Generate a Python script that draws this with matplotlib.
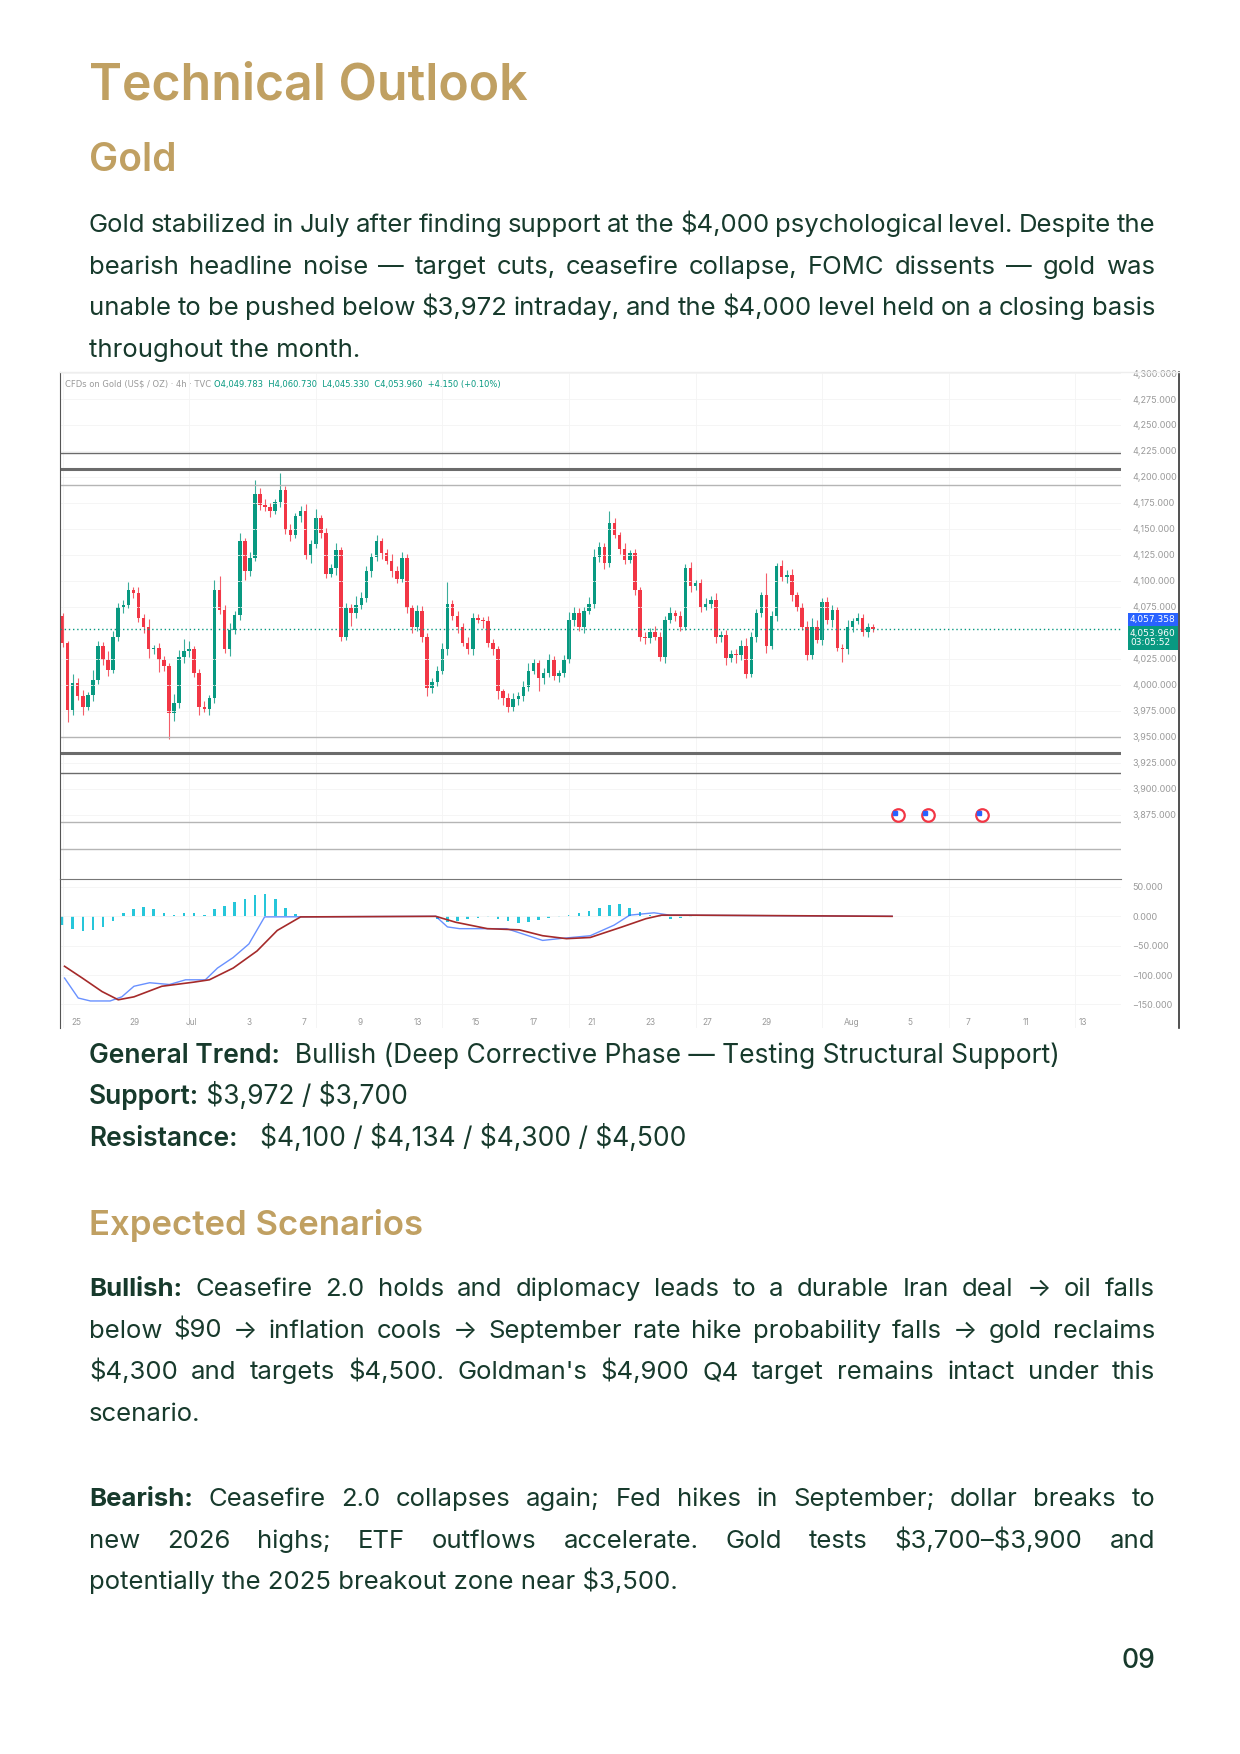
"""Technical outlook page: gold 4h candles with MACD pane."""
import matplotlib
matplotlib.use("Agg")
import numpy as np
from matplotlib import pyplot as plt
from matplotlib.transforms import blended_transform_factory
from matplotlib.patches import Rectangle

plt.rcParams["font.family"] = ["Inter", "DejaVu Sans"]

W, H = 1240, 1754
GOLD = "#c0a062"
INK = "#173a2c"
UP = "#089981"
DOWN = "#f23645"

# ---- data (4h candles) ----
first_open = 4066
closes = [
    4040, 3976, 4002, 3989, 3979, 3990, 4005, 4037, 4024, 4014, 4046, 4075, 4077, 4091, 4088,
    4064, 4056, 4034, 4035, 4024, 4018, 3973, 3982, 4027, 4032, 4034, 4011, 3979, 3977, 3987,
    4091, 4072, 4034, 4053, 4067, 4138, 4109, 4122, 4184, 4173, 4171, 4167, 4176, 4187, 4149,
    4144, 4162, 4167, 4125, 4135, 4160, 4146, 4107, 4112, 4130, 4046, 4074, 4069, 4077, 4083,
    4109, 4123, 4138, 4127, 4119, 4109, 4102, 4122, 4074, 4056, 4071, 4046, 3997, 4003, 4013,
    4034, 4078, 4066, 4056, 4040, 4034, 4064, 4062, 4061, 4040, 4034, 3994, 3987, 3979, 3986,
    3989, 3998, 4013, 4021, 4006, 4011, 4024, 4008, 4011, 4024, 4062, 4069, 4056, 4071, 4078,
    4123, 4133, 4117, 4156, 4144, 4131, 4120, 4127, 4091, 4046, 4045, 4051, 4046, 4027, 4062,
    4069, 4066, 4056, 4112, 4095, 4098, 4075, 4078, 4082, 4046, 4048, 4026, 4030, 4029, 4037,
    4010, 4046, 4069, 4086, 4037, 4066, 4114, 4104, 4106, 4086, 4075, 4056, 4029, 4056, 4043,
    4080, 4062, 4072, 4035, 4034, 4056, 4061, 4064, 4051, 4056, 4054,
]
wick_up = [
    3, 2, 8, 4, 6, 3, 9, 5, 4, 8, 6, 4, 5, 8, 3, 6, 4, 7, 3, 5, 4, 3, 9, 6, 12, 8, 3, 4, 5, 3,
    10, 14, 5, 6, 4, 8, 3, 6, 13, 5, 6, 4, 3, 17, 4, 6, 3, 5, 7, 4, 9, 3, 5, 4, 6, 3, 5, 4, 8, 6,
    5, 4, 6, 3, 4, 7, 5, 6, 4, 3, 6, 5, 4, 3, 5, 6, 21, 4, 5, 3, 6, 5, 4, 3, 5, 4, 3, 2, 5, 6,
    4, 6, 8, 4, 3, 5, 6, 4, 3, 5, 8, 6, 5, 4, 6, 8, 4, 3, 11, 4, 3, 5, 3, 4, 3, 5, 4, 6, 5, 4,
    6, 3, 5, 4, 6, 3, 4, 5, 3, 6, 4, 5, 3, 4, 6, 8, 5, 4, 3, 22, 5, 3, 6, 4, 5, 3, 4, 5, 8, 6,
    3, 4, 5, 3, 4, 6, 3, 5, 4, 3, 2,
]
wick_dn = [
    4, 12, 5, 4, 8, 3, 6, 4, 5, 6, 3, 4, 6, 3, 5, 4, 6, 8, 4, 12, 5, 25, 8, 4, 6, 5, 4, 8, 3, 6,
    5, 4, 3, 6, 4, 5, 8, 4, 3, 5, 4, 6, 3, 5, 4, 6, 3, 5, 4, 8, 3, 5, 4, 3, 6, 4, 3, 12, 5, 4,
    3, 5, 4, 6, 3, 5, 4, 3, 5, 6, 4, 5, 8, 5, 4, 3, 5, 4, 6, 3, 4, 5, 3, 6, 4, 5, 8, 7, 5, 4,
    6, 5, 4, 3, 12, 5, 4, 3, 5, 4, 3, 5, 4, 6, 3, 4, 5, 6, 4, 3, 5, 4, 3, 5, 4, 6, 5, 3, 4, 6,
    3, 5, 4, 3, 6, 4, 5, 3, 4, 6, 5, 7, 4, 8, 5, 4, 3, 5, 4, 6, 3, 5, 4, 6, 5, 4, 3, 5, 4, 3,
    5, 4, 6, 3, 12, 4, 5, 3, 4, 5, 3,
]

macd_idx = [0.4, 3.1, 5.5, 9.4, 11.7, 14.1, 17.2, 21.1, 24.3, 28.2, 30.6, 33.7, 36.8, 39.9,
            73.7, 76, 78.4, 87.7, 90.9, 94.8, 98, 104.2, 108.9, 112, 116.8, 119.9, 163.8]
macd_val = [-105, -139, -144, -144, -137, -119, -113, -116, -108, -108, -88, -70, -47, -1,
            0, -18, -21, -21, -30, -41, -38, -33, -15, 2, 6, 2, 0]
signal_idx = [0.4, 3.9, 7.8, 11, 14.1, 19.6, 25.9, 29, 33.7, 38.4, 42.4, 47, 73.7, 77.6,
              83.9, 90.2, 94.8, 99.5, 104.2, 110.5, 115.2, 118.3, 124.6, 163.8]
signal_val = [-85, -105, -128, -142, -137, -119, -112, -108, -88, -59, -24, -1, 0, -10,
              -21, -23, -33, -38, -36, -18, -4, 2, 2, 0]
hist_val = [-15, -22, -25, -24, -18, -8, 5, 12, 16, 13, 6, 3, 5, 5, 3, 12, 18, 24, 30, 36, 38,
            30, 15, 4, 0, 0, 0, 0, 0, 0, 0, 0, 0, 0, 0, 0, 0, -5, -9, -8, -5, -3, -2, -4, -8,
            -12, -10, -6, -3, -1, 2, 5, 9, 14, 19, 21, 15, 8, 2, -2, -4, -3, -2]

date_pos = [2.7, 14.2, 25.5, 36.9, 47.6, 58.7, 70.2, 81.6, 93.1, 104.4, 116, 127.3, 138.9,
            155.8, 167.3, 178.7, 190.2, 201.5]
date_lbl = ["25", "29", "Jul", "3", "7", "9", "13", "15", "17", "21", "23", "27", "29",
            "Aug", "5", "7", "11", "13"]

levels_dark = [4223, 3915]
levels_thick = [4208, 3934]
levels_light = [4192, 3950, 3868, 3842]
last_price = 4053.96
event_idx = [164.9, 170.9, 181.6]
event_price = 3875

fig = plt.figure(figsize=(W / 100, H / 100), dpi=100)
BODY = 18.5


def fy(y):
    return 1 - y / H


def esc(s):
    return s.replace("$", r"\$")


def runs(items, x, y, size):
    r = fig.canvas.get_renderer()
    for text, weight in items:
        t = fig.text(x / W, fy(y), esc(text), fontsize=size, weight=weight, color=INK, va="baseline")
        x += t.get_window_extent(r).width


def justify(items, x0, x1, y, size):
    r = fig.canvas.get_renderer()
    words = []
    for text, weight in items:
        words += [(w, weight) for w in text.split()]
    ts = [fig.text(0, fy(y), esc(w), fontsize=size, weight=wt, color=INK, va="baseline") for w, wt in words]
    widths = [t.get_window_extent(r).width for t in ts]
    gap = (x1 - x0 - sum(widths)) / (len(ts) - 1)
    x = x0
    for t, w in zip(ts, widths):
        t.set_x(x / W)
        x += w + gap


L, R = 89, 1155
fig.text(L / W, fy(99), "Technical Outlook", fontsize=36, weight="semibold", color=GOLD, va="baseline")
fig.text(L / W, fy(171), "Gold", fontsize=28, weight="semibold", color=GOLD, va="baseline")

para = [
    "Gold stabilized in July after finding support at the $4,000 psychological level. Despite the",
    "bearish headline noise — target cuts, ceasefire collapse, FOMC dissents — gold was",
    "unable to be pushed below $3,972 intraday, and the $4,000 level held on a closing basis",
]
for i, line in enumerate(para):
    justify([(line, "normal")], L, R, 232 + 41.7 * i, BODY)
runs([("throughout the month.", "normal")], L, 357, BODY)

# ---- chart ----
ax = fig.add_axes([60 / W, fy(879), 1061 / W, (879 - 372) / H])
mx = fig.add_axes([60 / W, fy(1028), 1061 / W, (1028 - 879) / H], sharex=ax)

opens = [first_open] + closes[:-1]
for i, (o, c) in enumerate(zip(opens, closes)):
    col = UP if c >= o else DOWN
    hi = max(o, c) + wick_up[i]
    lo = min(o, c) - wick_dn[i]
    ax.vlines(i, lo, hi, color=col, lw=0.8, alpha=0.8)
    ax.add_patch(Rectangle((i - 0.35, min(o, c)), 0.7, max(abs(c - o), 0.8), color=col, lw=0))

for lv in levels_dark:
    ax.axhline(lv, color="#6b6b6b", lw=1.0)
for lv in levels_thick:
    ax.axhline(lv, color="#6b6b6b", lw=2.2)
for lv in levels_light:
    ax.axhline(lv, color="#b5b5b5", lw=1.0)
ax.axhline(last_price, color=UP, lw=1, ls=(0, (1, 2)))

for xi in event_idx:
    ax.plot(xi, event_price, "o", ms=9, mfc="white", mec=DOWN, mew=1.6)
    ax.plot(xi - 0.6, event_price + 1.5, "s", ms=3, color="#2962ff")

ax.set_xlim(-0.5, 209)
ax.set_ylim(3813, 4301)
ax.yaxis.tick_right()
ticks = [t for t in np.arange(3875, 4301, 25) if t != 4050]
ax.set_yticks(ticks)
ax.set_yticklabels([f"{t:,.3f}" for t in ticks], fontsize=6.5, color="#9a9a9a")
ax.tick_params(axis="y", length=0, pad=8)
ax.tick_params(axis="x", length=0, labelbottom=False)
for s in ["top", "right", "bottom"]:
    ax.spines[s].set_visible(False)
ax.spines["left"].set_color("#555555")
ax.grid(color="#f4f4f4", lw=0.6)

ax.text(0.005, 0.985, "CFDs on Gold (US$ / OZ) · 4h · TVC", transform=ax.transAxes,
        fontsize=6, color="#9a9a9a", va="top", family=["DejaVu Sans"])
ax.text(0.145, 0.985, "O4,049.783  H4,060.730  L4,045.330  C4,053.960  +4.150 (+0.10%)",
        transform=ax.transAxes, fontsize=6, color=UP, va="top", family=["DejaVu Sans"])

tr = blended_transform_factory(ax.transAxes, ax.transData)
ax.text(1.0085, 4063, "4,057.358", transform=tr, fontsize=6.5, color="white", va="center",
        family=["DejaVu Sans"], bbox=dict(boxstyle="square,pad=0.25", fc="#2962ff", ec="none"))
ax.text(1.0085, 4045, "4,053.960\n03:05:52", transform=tr, fontsize=6.5, color="white",
        va="center", family=["DejaVu Sans"], linespacing=1.1,
        bbox=dict(boxstyle="square,pad=0.25", fc=UP, ec="none"))

# MACD pane
hist_idx = np.arange(len(hist_val)) * 2
mx.bar(hist_idx, hist_val, width=0.5, color="#26c6da")
mx.plot(macd_idx, macd_val, color="#2962ff", lw=1.0, alpha=0.7)
mx.plot(signal_idx, signal_val, color="#a52a2a", lw=1.2)
mx.set_ylim(-190, 63.5)
mticks = [50, 0, -50, -100, -150]
mx.set_yticks(mticks)
mx.set_yticklabels([f"{t:.3f}".replace("-", "\u2212") for t in mticks], fontsize=6.5, color="#9a9a9a")
mx.yaxis.tick_right()
mx.tick_params(axis="y", length=0, pad=8)
mx.tick_params(axis="x", length=0, labelbottom=False)
for s in ["right", "bottom"]:
    mx.spines[s].set_visible(False)
mx.spines["top"].set_color("#777777")
mx.spines["left"].set_color("#555555")
mx.grid(color="#f4f4f4", lw=0.6)
trx = blended_transform_factory(mx.transData, mx.transAxes)
for p, lbl in zip(date_pos, date_lbl):
    mx.text(p, 0.04, lbl, transform=trx, fontsize=6, color="#9a9a9a", ha="center", va="center")

fig.add_artist(plt.Line2D([1179 / W, 1179 / W], [fy(372), fy(1028)], color="#333333", lw=1.2))
fig.add_artist(plt.Line2D([60 / W, 1179 / W], [fy(372), fy(372)], color="#eeeeee", lw=1))

# ---- levels ----
LV = 19
runs([("General Trend:", "semibold"), ("  Bullish (Deep Corrective Phase — Testing Structural Support)", "normal")], L, 1063, LV)
runs([("Support:", "semibold"), (" $3,972 / $3,700", "normal")], L, 1104, LV)
runs([("Resistance:", "semibold"), ("   $4,100 / $4,134 / $4,300 / $4,500", "normal")], L, 1146, LV)

fig.text(L / W, fy(1235), "Expected Scenarios", fontsize=25, weight="semibold", color=GOLD, va="baseline")

bull = [
    [("Bullish:", "bold"), ("Ceasefire 2.0 holds and diplomacy leads to a durable Iran deal → oil falls", "normal")],
    [("below $90 → inflation cools → September rate hike probability falls → gold reclaims", "normal")],
    [("$4,300 and targets $4,500. Goldman's $4,900 Q4 target remains intact under this", "normal")],
]
for i, items in enumerate(bull):
    justify(items, L, R, 1296 + 41.7 * i, BODY)
runs([("scenario.", "normal")], L, 1421, BODY)

bear = [
    [("Bearish:", "bold"), ("Ceasefire 2.0 collapses again; Fed hikes in September; dollar breaks to", "normal")],
    [("new 2026 highs; ETF outflows accelerate. Gold tests $3,700–$3,900 and", "normal")],
]
for i, items in enumerate(bear):
    justify(items, L, R, 1506 + 41.7 * i, BODY)
runs([("potentially the 2025 breakout zone near $3,500.", "normal")], L, 1589, BODY)

fig.text(R / W, fy(1668), "09", fontsize=19, color=INK, ha="right", va="baseline", weight="medium")

fig.savefig("out.png", dpi=100)
